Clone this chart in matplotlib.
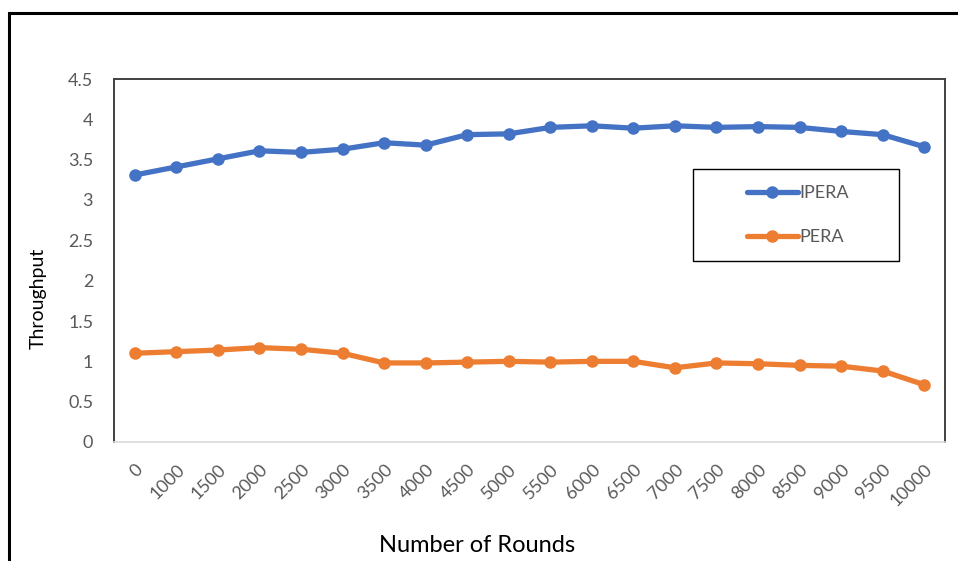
import matplotlib.pyplot as plt
from matplotlib.patches import Rectangle

# data
rounds = ["0", "1000", "1500", "2000", "2500", "3000", "3500", "4000", "4500", "5000",
          "5500", "6000", "6500", "7000", "7500", "8000", "8500", "9000", "9500", "10000"]
ipera = [3.31, 3.41, 3.51, 3.61, 3.59, 3.63, 3.71, 3.68, 3.81, 3.82,
         3.90, 3.92, 3.89, 3.92, 3.90, 3.91, 3.90, 3.85, 3.81, 3.66]
pera = [1.10, 1.12, 1.14, 1.17, 1.15, 1.10, 0.98, 0.98, 0.99, 1.00,
        0.99, 1.00, 1.00, 0.92, 0.98, 0.97, 0.95, 0.94, 0.88, 0.71]
yticks = [0, 0.5, 1, 1.5, 2, 2.5, 3, 3.5, 4, 4.5]

BLUE = "#4472C4"
ORANGE = "#ED7D31"
GREY = "#595959"
FONT = ["Lato", "DejaVu Sans"]

plt.rcParams["font.family"] = FONT

fig = plt.figure(figsize=(9.58, 5.61), dpi=100)
W, H = 958, 561

# outer chart border (top + left visible, rest runs off the image)
fig.patches.append(Rectangle((9 / W, -0.2), 1.2, (561 - 13) / H + 0.2,
                             transform=fig.transFigure, fill=False,
                             edgecolor="black", linewidth=2.2, clip_on=False))

ax = fig.add_axes([114 / W, (H - 442) / H, (945 - 114) / W, (442 - 79) / H])

x = list(range(len(rounds)))
l1, = ax.plot(x, ipera, color=BLUE, linewidth=3.8, marker="o", markersize=8,
              solid_capstyle="round", label="IPERA")
l2, = ax.plot(x, pera, color=ORANGE, linewidth=3.8, marker="o", markersize=8,
              solid_capstyle="round", label="PERA")

ax.set_xlim(-0.5, len(rounds) - 0.5)
ax.set_ylim(0, 4.5)
ax.set_yticks(yticks)
ax.set_yticklabels([f"{v:g}" for v in yticks])
ax.set_xticks(x)
ax.set_xticklabels(rounds, rotation=45, ha="right", rotation_mode="anchor")
ax.tick_params(length=0, labelsize=13, labelcolor=GREY)
ax.tick_params(axis="y", pad=15)
ax.tick_params(axis="x", pad=14)

for side in ["left", "top", "right"]:
    ax.spines[side].set_color("#404040")
    ax.spines[side].set_linewidth(1.4)
ax.spines["bottom"].set_color("#D9D9D9")
ax.spines["bottom"].set_linewidth(1.2)

fig.text(38 / W, 1 - 298 / H, "Throughput", rotation=90, ha="center", va="center",
         fontsize=14, color="black")
fig.text(477 / W, 1 - 545 / H, "Number of Rounds", ha="center", va="center",
         fontsize=17, color="black")

# legend box
ax.add_patch(Rectangle((693 / W, 1 - 261 / H), (899 - 693) / W, (261 - 169) / H,
                       transform=fig.transFigure, fill=True, facecolor="white",
                       edgecolor="black", linewidth=1.0, zorder=4, clip_on=False))
leg = ax.legend(handles=[l1, l2], loc="center", frameon=False, fontsize=13,
                bbox_to_anchor=(798 / W, 1 - 215 / H), bbox_transform=fig.transFigure,
                handlelength=2.8, handletextpad=0.1, labelspacing=1.55)
leg.set_zorder(6)
for t in leg.get_texts():
    t.set_color(GREY)

fig.savefig("out.png", dpi=100)
